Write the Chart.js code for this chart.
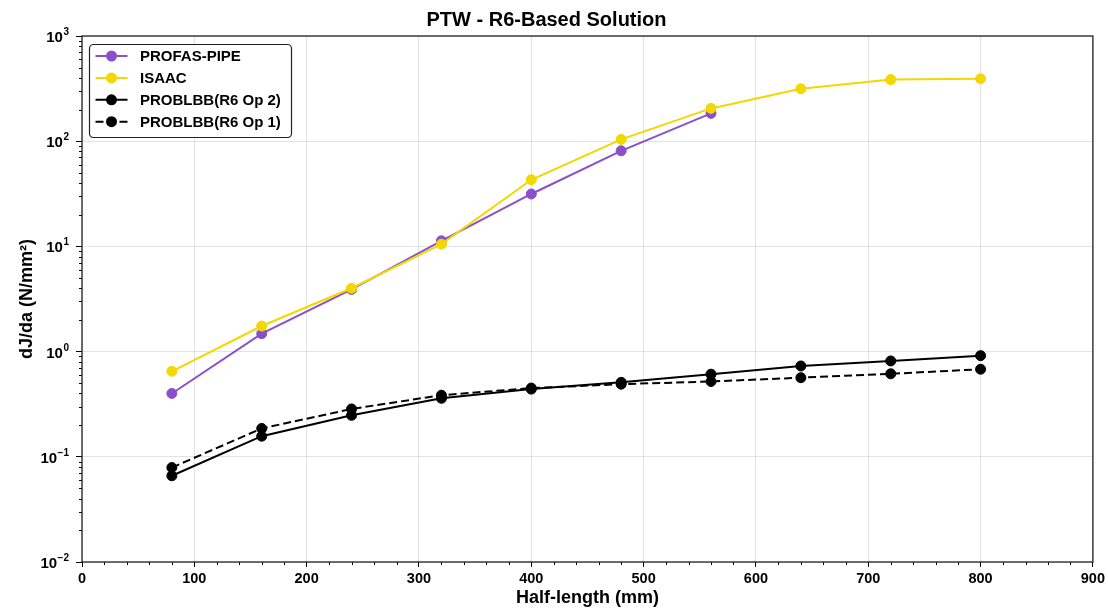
<!DOCTYPE html>
<html>
<head>
<meta charset="utf-8">
<title>PTW - R6-Based Solution</title>
<script src="https://cdn.jsdelivr.net/npm/chart.js@4.4.0/dist/chart.umd.min.js"></script>
<style>
  html, body { margin: 0; padding: 0; background: #fff; }
  #wrap { width: 1108px; height: 611px; }
</style>
</head>
<body>
<div id="wrap"><canvas id="chart" width="1108" height="611"></canvas></div>
<script>
// values (log y axis)
const halfLength = [80, 160, 240, 320, 400, 480, 560, 640, 720, 800];
const profasPipe = [0.40, 1.48, 3.9, 11.3, 31.5, 81, 184];
const isaac = [0.65, 1.75, 4.0, 10.5, 43, 104, 205, 315, 385, 392];
const problbbOp2 = [0.066, 0.157, 0.248, 0.36, 0.44, 0.51, 0.61, 0.73, 0.815, 0.915];
const problbbOp1 = [0.079, 0.186, 0.285, 0.385, 0.45, 0.49, 0.52, 0.565, 0.615, 0.68];
const yDecades = [-2, -1, 0, 1, 2, 3];
const xMin = 0, xMax = 900, xStep = 100, xMinorStep = 20;

const FONT = "'Liberation Sans', Arial, sans-serif";
Chart.defaults.font.family = FONT;
Chart.defaults.font.weight = 'bold';
Chart.defaults.color = '#000';

const pts = vals => vals.map((v, i) => ({ x: halfLength[i], y: v }));

const series = (label, vals, color, dash, order) => ({
  label,
  data: pts(vals),
  borderColor: color,
  backgroundColor: color,
  borderWidth: 2,
  borderDash: dash,
  pointRadius: 5,
  pointBorderWidth: 1,
  pointBackgroundColor: color,
  pointBorderColor: color,
  tension: 0,
  order
});

// minor ticks, frame, superscript y labels, mpl-style legend
const extras = {
  id: 'extras',
  afterDraw(chart) {
    const { ctx, chartArea: a, scales: { x, y } } = chart;
    ctx.save();

    ctx.strokeStyle = '#000';
    ctx.lineWidth = 1;
    ctx.beginPath();
    yDecades.slice(0, -1).forEach(e => {
      for (let m = 2; m < 10; m++) {
        const py = Math.round(y.getPixelForValue(m * Math.pow(10, e))) + 0.5;
        ctx.moveTo(a.left, py);
        ctx.lineTo(a.left - 3, py);
      }
    });
    for (let v = xMin + xMinorStep; v < xMax; v += xMinorStep) {
      if (v % xStep === 0) continue;
      const px = Math.round(x.getPixelForValue(v)) + 0.5;
      ctx.moveTo(px, a.bottom);
      ctx.lineTo(px, a.bottom + 3);
    }
    ctx.stroke();

    ctx.lineWidth = 1.3;
    ctx.strokeStyle = '#222';
    ctx.strokeRect(a.left, a.top, a.right - a.left, a.bottom - a.top);

    // y tick labels 10^n
    ctx.fillStyle = '#000';
    ctx.textBaseline = 'alphabetic';
    ctx.textAlign = 'right';
    y.ticks.forEach(t => {
      const e = Math.round(Math.log10(t.value));
      const py = y.getPixelForValue(t.value);
      const exp = e < 0 ? '\u2212' + (-e) : String(e);
      ctx.font = 'bold 10px ' + FONT;
      const ew = ctx.measureText(exp).width;
      const right = a.left - 13;
      ctx.fillText(exp, right, py - 1);
      ctx.font = 'bold 15px ' + FONT;
      ctx.fillText('10', right - ew - 0.5, py + 6);
    });

    // legend
    const lx = 89.5, ly = 44.5, lw = 202, lh = 93, rowH = 21.9;
    ctx.beginPath();
    ctx.roundRect(lx, ly, lw, lh, 4);
    ctx.fillStyle = 'rgba(255,255,255,0.85)';
    ctx.fill();
    ctx.lineWidth = 1.2;
    ctx.strokeStyle = '#222';
    ctx.stroke();
    ctx.font = 'bold 15px ' + FONT;
    ctx.textAlign = 'left';
    ctx.textBaseline = 'middle';
    chart.data.datasets.forEach((ds, i) => {
      const ry = ly + 11.5 + i * rowH;
      ctx.strokeStyle = ds.borderColor;
      ctx.lineWidth = 2;
      ctx.setLineDash(ds.borderDash || []);
      ctx.beginPath();
      ctx.moveTo(lx + 6, ry);
      ctx.lineTo(lx + 38, ry);
      ctx.stroke();
      ctx.setLineDash([]);
      ctx.beginPath();
      ctx.arc(lx + 22, ry, 5.5, 0, Math.PI * 2);
      ctx.fillStyle = ds.pointBackgroundColor;
      ctx.fill();
      ctx.fillStyle = '#000';
      ctx.fillText(ds.label, lx + 50.5, ry + 1);
    });

    ctx.restore();
  }
};

new Chart(document.getElementById('chart'), {
  type: 'line',
  data: {
    datasets: [
      series('PROFAS-PIPE', profasPipe, '#8a50cc', [], 4),
      series('ISAAC', isaac, '#f3d700', [], 3),
      series('PROBLBB(R6 Op 2)', problbbOp2, '#000000', [], 2),
      series('PROBLBB(R6 Op 1)', problbbOp1, '#000000', [8, 4], 1)
    ]
  },
  options: {
    responsive: false,
    animation: false,
    layout: { padding: { left: 0, right: 15, top: 0, bottom: 0 } },
    plugins: {
      legend: { display: false },
      tooltip: { enabled: false },
      title: {
        display: true,
        text: 'PTW - R6-Based Solution',
        font: { size: 20, weight: 'bold' },
        color: '#000',
        padding: { top: 8, bottom: 4 }
      }
    },
    scales: {
      x: {
        type: 'linear',
        min: xMin,
        max: xMax,
        ticks: { stepSize: xStep, font: { size: 14.5 }, padding: 3, maxRotation: 0 },
        grid: { color: 'rgba(0,0,0,0.11)', tickColor: '#000', tickLength: 5 },
        border: { display: false },
        title: { display: true, text: 'Half-length (mm)', font: { size: 18, weight: 'bold' }, padding: { top: 0, bottom: 2 } },
        afterFit: s => { s.height = 49; }
      },
      y: {
        type: 'logarithmic',
        min: 0.01,
        max: 1000,
        afterBuildTicks: s => { s.ticks = yDecades.map(e => ({ value: Math.pow(10, e) })); },
        ticks: { display: false },
        grid: { color: 'rgba(0,0,0,0.11)', tickColor: '#000', tickLength: 6 },
        border: { display: false },
        title: { display: true, text: 'dJ/da (N/mm\u00b2)', font: { size: 18, weight: 'bold' }, padding: { top: 16, bottom: 0 } },
        afterFit: s => { s.width = 82; }
      }
    }
  },
  plugins: [extras]
});
</script>
</body>
</html>
